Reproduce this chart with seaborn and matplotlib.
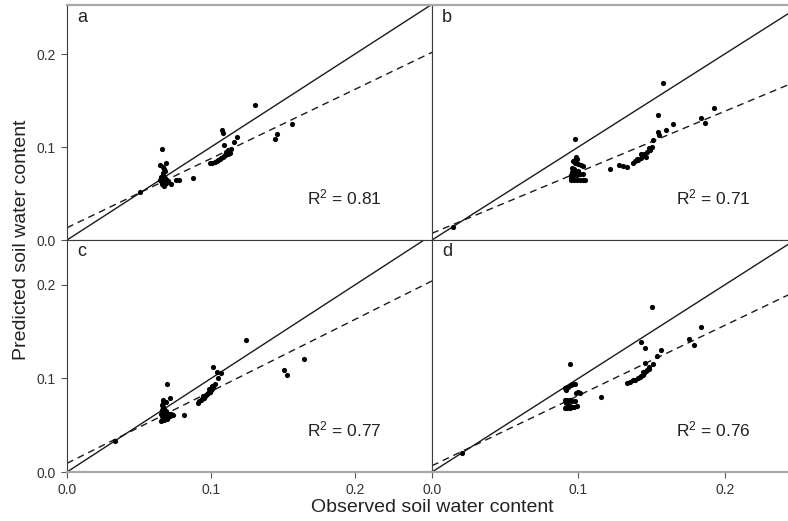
import numpy as np
import pandas as pd
import matplotlib
matplotlib.use("Agg")
import matplotlib.pyplot as plt
import seaborn as sns

# ---------------- data ----------------
panel_labels = ["a", "b", "c", "d"]
r2_labels = ["0.81", "0.71", "0.77", "0.76"]
x_ticks = [0.0, 0.1, 0.2]
y_ticks = [0.0, 0.1, 0.2]
tick_labels = ["0.0", "0.1", "0.2"]

# regression (dashed) lines: intercept, slope
reg_intercepts = [0.0132, 0.0072, 0.0093, 0.0067]
reg_slopes = [0.744, 0.656, 0.769, 0.750]

obs_a = [0.066, 0.0646, 0.069, 0.067, 0.0675, 0.068, 0.067, 0.0665, 0.067, 0.066,
         0.0668, 0.0655, 0.066, 0.067, 0.066, 0.0665, 0.0675, 0.068, 0.069, 0.0695,
         0.070, 0.068, 0.069, 0.068, 0.0655, 0.0645, 0.0722, 0.076, 0.0775, 0.0877,
         0.0507,
         0.0995, 0.101, 0.1025, 0.104, 0.105, 0.106, 0.107, 0.108, 0.109, 0.110,
         0.111, 0.112, 0.113, 0.1105, 0.112, 0.114, 0.1092, 0.1162, 0.1178, 0.1074,
         0.108, 0.1308, 0.1565, 0.1444, 0.146]
pred_a = [0.098, 0.0806, 0.0824, 0.078, 0.076, 0.074, 0.072, 0.070, 0.068, 0.066,
          0.0645, 0.063, 0.062, 0.061, 0.060, 0.059, 0.0585, 0.060, 0.061, 0.0625,
          0.063, 0.0635, 0.065, 0.067, 0.0675, 0.065, 0.0599, 0.0645, 0.064, 0.0663,
          0.0513,
          0.0825, 0.083, 0.084, 0.0845, 0.086, 0.087, 0.088, 0.089, 0.090, 0.091,
          0.092, 0.093, 0.094, 0.095, 0.0965, 0.0975, 0.102, 0.105, 0.111, 0.1183,
          0.1147, 0.1452, 0.1247, 0.1082, 0.114]

obs_b = [0.0976, 0.0985, 0.099, 0.0975, 0.0965, 0.098, 0.100, 0.102, 0.1035, 0.0955,
         0.097, 0.0955, 0.0965, 0.0985, 0.100, 0.095, 0.097, 0.099, 0.101, 0.103,
         0.095, 0.097, 0.099, 0.101, 0.103, 0.1045, 0.095, 0.096,
         0.1215, 0.128, 0.1305, 0.133, 0.137, 0.139, 0.140, 0.141, 0.143, 0.144,
         0.1425, 0.145, 0.146, 0.147, 0.149, 0.150, 0.148, 0.151, 0.1545, 0.160,
         0.155, 0.1545, 0.158, 0.165, 0.184, 0.1863, 0.193, 0.0146]
pred_b = [0.1083, 0.0895, 0.0875, 0.0865, 0.0845, 0.083, 0.082, 0.0805, 0.080, 0.0775,
          0.076, 0.0735, 0.072, 0.0725, 0.074, 0.0695, 0.0698, 0.070, 0.0705, 0.071,
          0.0645, 0.0642, 0.0642, 0.064, 0.064, 0.0645, 0.0665, 0.0675,
          0.076, 0.0806, 0.080, 0.079, 0.0824, 0.085, 0.0875, 0.086, 0.0885, 0.0905,
          0.092, 0.093, 0.0895, 0.095, 0.097, 0.100, 0.0985, 0.1075, 0.1165, 0.118,
          0.113, 0.134, 0.169, 0.1247, 0.131, 0.1254, 0.1416, 0.0143]

obs_c = [0.0692, 0.0664, 0.0715, 0.0815, 0.0333,
         0.066, 0.067, 0.0665, 0.066, 0.067, 0.0655, 0.066, 0.067, 0.066, 0.0655,
         0.0675, 0.068, 0.069, 0.070, 0.0715, 0.072, 0.0705, 0.0685, 0.068, 0.0685,
         0.0675, 0.0665, 0.0685, 0.0735, 0.0695, 0.0665,
         0.0912, 0.092, 0.093, 0.094, 0.095, 0.0955, 0.0965, 0.097, 0.098, 0.099,
         0.0995, 0.100, 0.101, 0.1015, 0.1028, 0.0985, 0.1005, 0.0945,
         0.1016, 0.104, 0.1067, 0.105, 0.1243, 0.151, 0.153, 0.1648]
pred_c = [0.094, 0.077, 0.0788, 0.061, 0.0331,
          0.072, 0.070, 0.068, 0.066, 0.064, 0.062, 0.060, 0.058, 0.056, 0.0545,
          0.0555, 0.057, 0.058, 0.059, 0.060, 0.0615, 0.0625, 0.0615, 0.063, 0.065,
          0.067, 0.0735, 0.0745, 0.0605, 0.0565, 0.0575,
          0.0741, 0.0755, 0.077, 0.078, 0.0795, 0.081, 0.082, 0.0835, 0.084, 0.085,
          0.086, 0.0875, 0.089, 0.0905, 0.094, 0.0885, 0.092, 0.0815,
          0.1127, 0.1073, 0.1055, 0.1002, 0.1412, 0.109, 0.1034, 0.1205]

obs_d = [0.0942, 0.0908, 0.092, 0.0931, 0.095, 0.0965, 0.0977, 0.0915, 0.0908, 0.0925,
         0.094, 0.096, 0.0975, 0.0908, 0.0925, 0.094, 0.0955, 0.097, 0.099, 0.0999,
         0.101, 0.0985, 0.0915, 0.0935, 0.0203, 0.1158,
         0.1329, 0.135, 0.1375, 0.139, 0.1405, 0.142, 0.143, 0.1445, 0.145, 0.1445,
         0.146, 0.147, 0.148, 0.148, 0.151, 0.1457, 0.1431, 0.1454, 0.1504, 0.1534,
         0.1563, 0.1757, 0.179, 0.1836]
pred_d = [0.1155, 0.0895, 0.0905, 0.091, 0.0925, 0.094, 0.0945, 0.088, 0.077, 0.0765,
          0.077, 0.0755, 0.076, 0.068, 0.068, 0.0685, 0.069, 0.0695, 0.0705, 0.0859,
          0.084, 0.0845, 0.074, 0.0715, 0.0207, 0.0799,
          0.0955, 0.096, 0.098, 0.0985, 0.100, 0.1016, 0.103, 0.104, 0.1055, 0.107,
          0.108, 0.109, 0.110, 0.112, 0.1155, 0.117, 0.1394, 0.133, 0.1768, 0.124,
          0.1305, 0.1419, 0.1358, 0.1547]

observed = [obs_a, obs_b, obs_c, obs_d]
predicted = [pred_a, pred_b, pred_c, pred_d]

# ---------------- figure ----------------
sns.set_style("white")
plt.rcParams["font.family"] = ["Liberation Sans", "DejaVu Sans"]
plt.rcParams["mathtext.fontset"] = "custom"
plt.rcParams["mathtext.rm"] = "Liberation Sans"
plt.rcParams["mathtext.it"] = "Liberation Sans:italic"
plt.rcParams["mathtext.bf"] = "Liberation Sans:bold"

W, H = 788, 521
fig = plt.figure(figsize=(W / 100, H / 100), dpi=100)

xmax = 0.2535
# panel geometry in pixels: (left, top, width, height)
geo = [(67, 5, 365, 235), (432, 5, 371, 235),
       (67, 240, 365, 232), (432, 240, 371, 232)]
ylims = [0.2527, 0.2527, 0.248, 0.248]

dark = "#3a3a3a"
light = "#a8a8a8"

for i in range(4):
    l, t, w, h = geo[i]
    ax = fig.add_axes([l / W, 1 - (t + h) / H, w / W, h / H])
    df = pd.DataFrame({"obs": observed[i], "pred": predicted[i]})
    sns.scatterplot(data=df, x="obs", y="pred", ax=ax, color="black",
                    s=14, linewidth=0, zorder=3)
    xs = np.array([0.0, xmax])
    ax.plot(xs, xs, color="#1a1a1a", lw=1.0, zorder=2)
    ax.plot(xs, reg_intercepts[i] + reg_slopes[i] * xs, color="#1a1a1a",
            lw=1.0, ls=(0, (5, 3.5)), zorder=2)
    ax.set_xlim(0, xmax)
    ax.set_ylim(0, ylims[i])
    ax.set_xlabel("")
    ax.set_ylabel("")

    col = i % 2
    row = i // 2
    ax.set_xticks(x_ticks)
    ax.set_yticks(y_ticks)
    if row == 1:
        ax.set_xticklabels(tick_labels)
        ax.tick_params(axis="x", bottom=True, length=4, width=0.8,
                       color="#555555", pad=4, labelsize=10, labelcolor="#333333")
    else:
        ax.tick_params(axis="x", bottom=False, labelbottom=False)
    if col == 0:
        ax.set_yticklabels(tick_labels)
        ax.tick_params(axis="y", left=True, length=4, width=0.8,
                       color="#555555", pad=4, labelsize=10, labelcolor="#333333")
    else:
        ax.tick_params(axis="y", left=False, labelleft=False)

    for side in ["left", "right", "top", "bottom"]:
        ax.spines[side].set_visible(True)
        ax.spines[side].set_color(dark)
        ax.spines[side].set_linewidth(0.8)
    if row == 0:
        ax.spines["top"].set_color(light)
        ax.spines["top"].set_linewidth(1.6)
    else:
        ax.spines["bottom"].set_color(light)
        ax.spines["bottom"].set_linewidth(1.6)

    ax.text(0.027, 0.985, panel_labels[i], transform=ax.transAxes,
            ha="left", va="top", fontsize=13, color="#222222")
    ax.text(0.1665, 0.0455, r"R$^2$ = " + r2_labels[i], ha="left", va="center",
            fontsize=12.5, color="#222222")

fig.text(22 / W, 1 - 240 / H, "Predicted soil water content", rotation=90,
         ha="center", va="center", fontsize=14, color="#222222")
fig.text(432 / W, 1 - 508 / H, "Observed soil water content",
         ha="center", va="center", fontsize=14, color="#222222")

fig.savefig("out.png", dpi=100)
